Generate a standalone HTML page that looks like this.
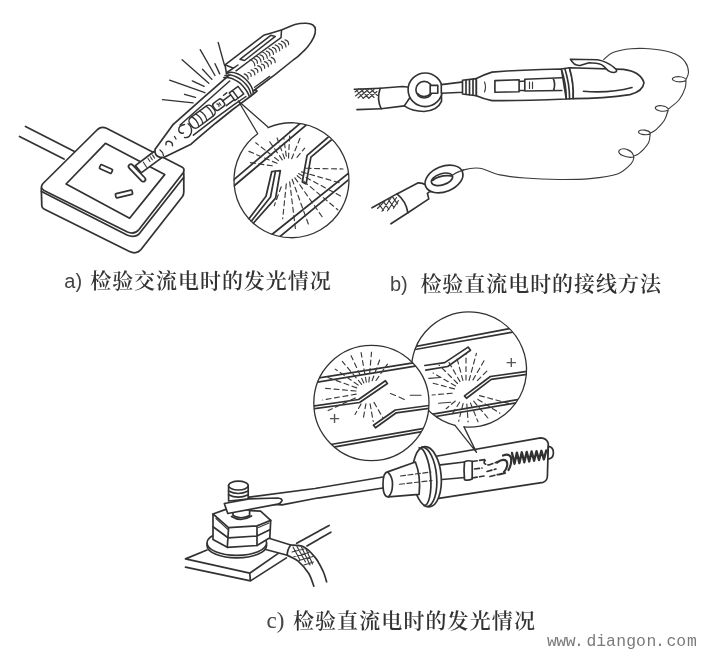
<!DOCTYPE html>
<html lang="zh-CN">
<head>
<meta charset="utf-8">
<title>检验交流电与直流电</title>
<style>
html,body{margin:0;padding:0;background:#fff;}
body{width:702px;height:655px;overflow:hidden;position:relative;}
svg{position:absolute;left:0;top:0;display:block;}
.cap{font-family:"Liberation Serif","Noto Serif CJK SC",serif;font-size:21px;fill:#333;font-weight:600;}
.lab{font-weight:400;font-family:"Liberation Sans",sans-serif;font-size:20px;fill:#444;}
.wm{font-family:"Liberation Mono","Noto Serif CJK SC",monospace;font-size:16.4px;fill:#7a7a7a;text-anchor:middle;}
.pl{font-family:"Liberation Sans",sans-serif;font-size:19px;fill:#555;text-anchor:middle;}
.k{fill:none;stroke:#333;stroke-width:1.65;stroke-linecap:round;stroke-linejoin:round;}
.t{fill:none;stroke:#3a3a3a;stroke-width:1.15;stroke-linecap:round;stroke-linejoin:round;}
.w{fill:#fff;stroke:#333;stroke-width:1.65;stroke-linecap:round;stroke-linejoin:round;}
#figA .k,#figA .w{stroke-width:1.75;}
#figC .k,#figC .w{stroke-width:1.7;}
</style>
</head>
<body>
<svg width="702" height="655" viewBox="0 0 702 655">
<defs><filter id="soft" x="-2%" y="-2%" width="104%" height="104%"><feGaussianBlur stdDeviation="0.45"/></filter></defs>
<rect x="0" y="0" width="702" height="655" fill="#fff"/>
<g filter="url(#soft)">
<!--FIG_A-->
<g id="figA">
<!-- cable -->
<path class="k" d="M25.5 126.5 L74.5 151.5 M19.5 136.5 L64 159"/>
<!-- socket box -->
<path class="w" d="M41.3 188 L41.8 206 Q42 208 44 209 L129.500 251.500 Q136.500 254.800 141 249.500 L182.5 196.5 Q183.8 194.5 183.8 192 L183.8 173 Z"/>
<path class="w" d="M43 183.5 L97.5 129.5 Q101.5 125.8 106.5 128.3 L182.3 167.2 Q185 168.700 183.400 172.500 L139 229.500 Q134.500 235 127.500 232 L44 190.5 Q39.5 187.5 43 183.5 Z"/>
<path class="k" d="M41.5 191.5 L127 235 Q135 238.500 140 232.800 L183.6 177.500"/>
<path class="k" d="M105.4 143.3 L164.7 174.6 L129.6 218.2 L66.1 184 Z"/>
<!-- slots -->
<rect class="k" x="-6.5" y="-2.2" width="13" height="4.4" rx="1" transform="translate(106 169) rotate(24)"/>
<rect class="k" x="-8.5" y="-2.2" width="17" height="4.4" rx="1" transform="translate(124 194) rotate(-13)"/>
<rect class="w" x="-11.200" y="-2.300" width="22.400" height="4.600" rx="2.300" transform="translate(137 172.900) rotate(46.500)"/>
<!-- rays -->
<path class="k" style="stroke-width:1.35" d="M218.2 42.5 L224.5 65.3 M200.2 49.6 L215 75.5 M182.1 59.8 L208.8 83.3 M169.6 80.2 L204.9 92.7 M162.5 99.7 L193.1 102.9 M215 63.7 L219.7 73.9 M202.5 69.2 L211.9 79.4 M192.3 80.9 L204.1 86.4 M184.5 94.3 L195.5 97.4"/>
<!-- probe shaft -->
<path class="w" d="M154.1 151.5 L135.3 165.6 L141.2 172.9 L162.6 157.1 Z"/>
<path class="t" d="M143.4 162.2 L146.6 167.2 M148 158.5 L150 161.5 M150.3 156.8 L152.3 159.8 M152.6 155.100 L154.600 158.100"/>
<!-- pen body -->
<path class="w" d="M233 71.5 L226.3 77.6 L200.6 100.2 L175 122.9 L173.1 124.5 L155.1 149.3 Q154 155.500 160 157.300 Q163 157.800 165.2 156.7 L191 144.2 L198.5 137.7 L215.6 123.2 L232.7 109.5 L239.6 104.4 L250.9 96 L257 91 Z"/>
<path class="k" style="stroke-width:1.5" d="M229.700 81 L180.100 125 M246 96.500 L234.400 104.400 L215.600 118.100 L193.400 135.200"/>
<!-- neon bulb -->
<g transform="translate(202.1 116.7) rotate(-36.5)">
<rect class="w" style="stroke-width:1.5" x="-14" y="-6.1" width="28" height="12.2" rx="4.5"/>
<path class="k" style="stroke-width:1.3" d="M-8.5 -6 Q-5.5 0 -8.5 6 M-3.5 -6 Q-0.5 0 -3.5 6 M1.5 -6 Q4.5 0 1.5 6 M9.5 -6 Q11.5 0 9.5 6"/>
<rect class="w" style="stroke-width:1.5" x="15" y="-4" width="11" height="8.5" rx="2.5"/>
<path class="t" d="M19.5 -1.5 Q21.5 0 19.5 2 M22 -1 L22 2"/>
<path class="k" style="stroke-width:1.5" d="M26 -0.500 L36 -0.500 L36 5.500 L26 5.500 M36 -3 L47 -3 L47 6.500 L36 6.500 Z M40 -3 L40 6.500 M30 -4.500 L34 -4.500"/>
</g>
<!-- squiggles in cone -->
<path class="k" style="stroke-width:1.4" d="M184.500 124.500 Q178 125.500 178.800 130.500 Q180 134 183.500 133 M188 123.800 Q192.500 127 191.300 132.500 Q189.500 138.500 184.500 137.500 M174.500 136.500 L176 139 M166 144.800 Q165.400 141 169 141.200 Q172.800 142 172.500 145.800 M160 150 Q163 152 163.500 155.500"/>
<!-- cap -->
<path d="M226.5 73.6 L225 64.8 L263.9 35.2 C266.9 34.3 276.9 31.5 282.1 29.7 C287.3 27.9 290.9 25.6 294.9 24.5 C298.9 23.4 303.0 23.1 306.0 23.2 C309.0 23.3 311.3 23.9 312.9 25.0 C314.5 26.1 315.3 27.6 315.4 29.7 C315.5 31.8 315.0 34.5 313.7 37.4 C312.4 40.2 310.1 43.8 307.7 46.8 C305.3 49.8 301.6 53.1 299.2 55.3 C296.8 57.5 294.2 59.2 293.2 60.0 L275 74.7 L253.2 91 Q240 76 226.500 73.600 Z" fill="#fff"/>
<path class="k" style="stroke-width:1.6" d="M226.5 73.6 L225 64.8 L263.9 35.2 C266.9 34.3 276.9 31.5 282.1 29.7 C287.3 27.9 290.9 25.6 294.9 24.5 C298.9 23.4 303.0 23.1 306.0 23.2 C309.0 23.3 311.3 23.9 312.9 25.0 C314.5 26.1 315.3 27.6 315.4 29.7 C315.5 31.8 315.0 34.5 313.7 37.4 C312.4 40.2 310.1 43.8 307.7 46.8 C305.3 49.8 301.6 53.1 299.2 55.3 C296.8 57.5 294.2 59.2 293.2 60.0 L275 74.7 L253.2 91"/>
<path class="k" style="stroke-width:1.5" d="M225 64.800 L233.500 68.200 L226.800 72.500 M236 70.800 L260 53 L281 37.600 M239.900 59.300 L270.800 35.300 L275.300 36.400 L244.500 60.500 Z M233.500 68.200 L238 65 M281.500 30.400 L281 37.600"/>
<path class="k" style="stroke-width:1.5" d="M223.8 77.6 C224.7 77.6 227.2 77.4 229.0 77.8 C230.8 78.2 232.9 78.9 234.7 79.8 C236.5 80.7 238.4 81.9 240.0 83.2 C241.6 84.5 242.9 86.0 244.1 87.5 C245.3 89.0 246.4 90.5 247.3 92.0 C248.2 93.5 249.1 95.7 249.4 96.4"/>
<path class="k" style="stroke-width:1.5" d="M225.0 75.6 C225.9 75.5 228.6 74.8 230.5 75.0 C232.4 75.2 234.6 76.1 236.5 77.0 C238.4 77.9 240.4 79.2 242.0 80.5 C243.6 81.8 245.1 83.3 246.3 84.8 C247.5 86.3 248.5 87.7 249.3 89.3 C250.1 90.9 250.9 93.7 251.2 94.6"/>
<path class="k" style="stroke-width:1.5" d="M226.5 73.6 C227.3 73.4 229.4 72.3 231.2 72.3 C233.0 72.3 235.5 73.0 237.5 73.8 C239.5 74.6 241.5 75.9 243.2 77.2 C244.9 78.5 246.5 80.1 247.8 81.5 C249.1 82.9 250.1 84.4 250.9 85.8 C251.7 87.2 252.4 88.8 252.8 90.0 C253.2 91.2 253.1 92.5 253.2 93.0"/>
<path class="k" style="stroke-width:1.4" d="M269.700 76.400 L254.600 87.300"/>
<!-- cap hatching -->
<path class="t" style="stroke-width:1.2" d="M250.2 59.8 Q254.6 61.2 254.8 65.8 M253.8 58.6 Q257.7 59.3 257.4 63.3 M256.4 56.1 Q260.8 57.5 261.0 62.0 M260.0 54.8 Q263.9 55.6 263.7 59.6 M262.7 52.3 Q267.0 53.7 267.3 58.3 M266.3 51.1 Q270.1 51.9 269.9 55.8 M268.9 48.6 Q273.3 50.0 273.5 54.5 M272.5 47.3 Q276.4 48.1 276.2 52.1 M275.2 44.9 Q279.5 46.2 279.7 50.8 M278.7 43.6 Q282.6 44.4 282.4 48.3 M281.4 41.1 Q285.7 42.5 286.0 47.0 M285.0 39.8 Q288.9 40.6 288.6 44.6 M244.2 73.9 Q248.1 75.0 248.2 79.1 M248.0 72.5 Q251.5 73.0 251.1 76.4 M251.0 69.8 Q254.8 70.9 254.9 74.9 M254.8 68.3 Q258.2 68.8 257.8 72.3 M257.7 65.7 Q261.6 66.8 261.7 70.8 M261.6 64.2 Q265.0 64.7 264.6 68.2 M264.5 61.6 Q268.3 62.7 268.4 66.7 M268.3 60.1 Q271.7 60.6 271.3 64.0 M271.2 57.4 Q275.1 58.5 275.2 62.6"/>
<!-- leader & balloon -->
<path class="k" style="stroke-width:1.3" d="M238.300 101 L257.900 134 M238.300 101 L267.700 126.700"/>
<!-- balloonA -->
<clipPath id="clipA"><circle cx="291" cy="180.5" r="57.5"/></clipPath>
<circle cx="291" cy="180.5" r="57.5" fill="#fff" stroke="none"/>
<g clip-path="url(#clipA)">
<path class="k" d="M226.800 185.700 L306.200 118.300 M228.800 190.300 L311 121"/>
<path class="k" d="M270 236 L353 169.700 M275.800 240 L355 174.300"/>
<path class="k" d="M245 224 L266 196.300 L271.800 171.500 L280.300 170.600 L275.600 198.200 L249.500 227.500 M247.500 226 L270.500 197 L275.500 171.200"/>
<path class="k" d="M340 127 L307.100 155.300 L302.300 182 L306.100 183.900 L310.900 157.200 L342 131"/>
<path class="t" stroke-dasharray="5 3.5" d="M277.0 163.3 L246.6 150.4 M278.5 160.6 L255.7 142.8 M282.3 159.8 L268.5 140.1 M284.6 158.6 L276.4 136.1 M286.3 156.1 L283.8 138.3 M288.5 158.0 L289.9 131.1 M291.7 158.7 L301.1 135.5 M297.0 157.3 L304.7 148.1 M306.0 168.3 L343.0 169.0 M301.5 171.9 L339.9 182.9 M298.6 173.6 L341.0 196.2 M297.2 175.7 L337.8 209.8 M294.9 177.8 L324.1 219.6 M292.1 179.3 L309.2 226.3 M289.7 181.9 L295.4 228.5 M286.3 183.9 L282.7 218.7 M281.2 186.8 L274.3 205.6 M272.2 165.8 L248.4 162.4"/>
</g>
<path class="k" style="stroke-width:1.3" d="M268.100 127.700 A57.500 57.500 0 1 1 257.700 133.700"/>
<!-- /balloonA -->
</g>
<!--FIG_B-->
<g id="figB">
<path class="t" style="stroke-width:1.1" d="M603.7 59.5 C605.2 58.4 608.3 54.4 612.9 52.6 C617.5 50.8 624.3 49.3 631.2 48.7 C638.1 48.1 646.9 48.4 654.1 49.2 C661.4 50.0 669.5 51.6 674.7 53.7 C679.9 55.8 682.8 58.7 685.1 61.8 C687.4 64.9 688.4 69.1 688.5 72.1 C688.6 75.0 686.4 78.3 686.0 79.5 C684 76.5 676 75.5 672.8 78.2 C670.5 81 680 83.5 686 80.5 L686.0 80.5 C685.9 81.8 686.2 84.9 685.1 88.1 C684.0 91.3 682.1 96.0 679.3 99.5 C676.5 103.0 670.3 107.4 668.5 109.0 C666 105.5 658 104.5 655.6 107 C653.5 110 663 113 668.2 110 L668.2 110.0 C667.6 111.7 666.4 117.0 664.4 120.2 C662.4 123.4 658.7 127.2 656.4 129.3 C654.1 131.4 651.5 132.4 650.5 133.0 C648.5 130 641 129 638.8 131.2 C637 134 645.5 136 650.2 133.8 L650.2 133.8 C649.9 135.4 650.2 139.8 648.4 143.1 C646.6 146.4 641.7 151.2 639.2 153.4 C636.7 155.6 634.5 155.7 633.5 156.2 C633 151 624 146.5 619.3 150.3 C616.5 154 626 158.5 634 157 L634.0 157.0 C633.5 158.1 634.0 160.9 631.2 163.7 C628.5 166.5 624.4 171.5 617.5 174.0 C610.6 176.5 599.8 177.7 590.0 178.6 C580.2 179.5 569.8 179.6 559.0 179.5 C548.2 179.4 534.8 178.8 525.0 178.0 C515.2 177.2 507.6 176.5 500.0 174.9 C492.4 173.3 485.8 169.1 479.7 168.3 C473.6 167.5 468.5 168.6 463.7 169.9 C458.9 171.2 452.9 174.9 450.7 175.9"/>
<path class="k" d="M354.3 89.3 L380.2 88.3 M357 109.6 L381.1 108.7"/>
<path class="t" d="M355 92 L359 88.8 M355.5 96 L364 89 M358 98 L369 89 M363 98.5 L374 89.5 M369 98 L377 91.5 M356 89.5 L363 98 M360.5 89 L369 98.5 M365.5 89 L374 97.5 M370.5 88.8 L377.5 95.5"/>
<path class="w" d="M380.2 88.3 L402.4 86.5 L412 87.5 L412 101 L404.3 105.9 L381.1 108.7 Q376.5 99 380.2 88.3 Z"/>
<path class="w" d="M411 96 L404.3 105.9 Q412 111.3 424 111.5 Q437.5 110.5 441.5 101.3 L441.5 93 Z"/>
<ellipse class="w" cx="425.2" cy="89.8" rx="17.1" ry="16.8"/>
<circle class="w" cx="424.2" cy="89.7" r="8.3"/>
<path class="k" d="M417.5 93.5 Q424 100 431.5 93.2"/>
<rect class="w" x="430.2" y="85.4" width="7.6" height="7.8"/>
<path class="w" d="M441.3 84.6 L463.5 81.9 L463.5 92.3 L441.3 93.2 Z"/>
<path class="w" d="M462.5 80.3 L476.4 78.6 L476.4 95.7 L462.5 94 Z"/>
<path class="k" d="M466 80 L466 94.3 M469.5 79.6 L469.5 94.8 M473 79.2 L473 95.2"/>
<path class="w" d="M476.4 78.6 Q484 74.5 492 72.1 Q520 69.8 561.4 69 L566.3 99 Q520 101 492 100.6 Q484 99 476.4 95.7 Z"/>
<path class="k" d="M494.9 80.6 L519.1 79.8 L519.1 91.8 L494.9 92.3 Z M519.1 81.5 L524.8 81 M519.1 90.5 L524.8 90.3 M524.8 79.2 L561.8 77.8 M524.8 91 L561.8 90.5 M524.8 79.2 L524.8 91 M553 78.2 Q556 84 553.5 90.6"/>
<path class="t" d="M529.5 82 L529.5 88.5 M532.5 82 L532.5 88.5 M484.5 82 Q486.5 87 484.5 92"/>
<path class="w" d="M561.4 69 Q566.3 84 566.3 99 L573.2 98.6 Q574 83 569.4 67.8 Z"/>
<path class="k" d="M564.8 68.5 Q569.6 84 569.6 98.800"/>
<path class="w" d="M569.4 67.8 L623.4 69.4 Q640.5 71.5 644 82.7 Q643 91.5 630 94.6 Q604 98.5 573.2 98.6 Q574 83 569.4 67.8 Z"/>
<path class="k" d="M583.5 91.3 Q610 93.5 632 87.5"/>
<path class="w" d="M570.4 59.2 L597.5 59.8 Q607 61.5 614.5 67.8 Q619 71.5 614 72.5 Q609 72.5 605.5 68 Q602 63.5 596 63.2 L589 62.7 L580 65.5 Q574 66 570.4 59.2 Z"/>
<path class="k" d="M372 207.8 L396.9 193.9 M390.9 223.8 L407.9 212.8"/>
<path class="t" d="M379 204.2 L383.5 210.5 M383.5 201.7 L389 209.5 M388 199.2 L394 207.5 M392.5 196.8 L397.5 203.8 M377.5 208.5 L385 200.8 M382 211.3 L391 198 M387.5 210.8 L396.5 197.5 M393.5 208.300 L398.500 200.500"/>
<path class="w" d="M396.9 193.9 L417.8 182.9 Q422 182.6 426 185 L433 191 Q428.5 191.6 427.4 193.5 L428.8 198.9 L407.9 212.8 Q406 201 396.9 193.9 Z"/>
<ellipse class="w" cx="444" cy="179" rx="19.8" ry="12.6" transform="rotate(-22 444 179)"/>
<ellipse class="w" cx="442" cy="179.3" rx="11" ry="5.6" transform="rotate(-17 442 179.3)"/>
<path class="k" d="M432.5 180.5 Q440 174.5 452 176"/>
<path class="t" style="stroke-width:1.1" d="M450.7 175.9 C453 174.8 458.5 171.3 463.7 169.9"/>
</g>
<!--FIG_C-->
<g id="figC">
<clipPath id="clipC2"><circle cx="469" cy="369.5" r="57.6"/></clipPath>
<circle cx="469" cy="369.5" r="57.6" fill="#fff"/>
<g clip-path="url(#clipC2)">
<path class="k" d="M409 347.8 L508.2 328.8 L530 324.600 M409 350.600 L511.2 332.400 L530 329"/>
<path class="k" d="M424.8 365.5 L444.7 362.6 L468.1 347.1 L470.5 350.3 L447.7 366.5 L425.8 370.1"/>
<path class="k" d="M532 370.600 L490.4 376.5 L464.5 395.9 L466.5 398.3 L491.3 379.4 L532 373.600"/>
<path class="k" d="M424 415.700 L516.2 399.9 L535 396.700 M424 418.500 L513.2 403.3 L535 399.500"/>
<path class="t" stroke-dasharray="5 3.5" d="M454.4 388.9 L431.2 382.7 M455.6 386.0 L433.1 373.0 M457.5 383.5 L439.1 365.1 M460.0 381.6 L448.0 360.8 M462.9 380.4 L456.7 357.2 M466.0 380.0 L466.0 354.0 M469.1 380.4 L476.4 353.4 M473.0 379.9 L484.0 360.8 M477.3 380.7 L488.6 369.4 M452.1 393.2 L432.1 395.0 M479.5 395.6 L508.5 403.4 M477.9 399.4 L499.9 413.2 M473.7 401.2 L487.9 418.0 M470.5 403.1 L478.0 421.7 M466.8 404.0 L468.1 421.9 M463.1 403.6 L458.7 421.1 M459.6 402.2 L451.2 415.7 M455.3 401.0 L446.1 408.7"/>
<path class="t" d="M428.8 378.4 L440.7 377.5 M438.7 403.3 L450.7 402.3"/>
</g>
<path class="k" style="stroke-width:1.3" d="M464 426.900 A57.600 57.600 0 1 0 455 425.400"/>
<text class="pl" x="511.2" y="368.600">+</text>
<clipPath id="clipC1"><circle cx="371.4" cy="403" r="57.6"/></clipPath>
<circle class="w" style="stroke-width:1.3" cx="371.4" cy="403" r="57.6"/>
<g clip-path="url(#clipC1)">
<path class="k" d="M312 379 L413.2 362.8 L432 359.800 M312 383 L415.2 366.2 L432 363.500"/>
<path class="k" d="M312 406.200 L358.6 399.5 L385.4 380.7 L387.400 383.500 L359.6 402.5 L312 409"/>
<path class="k" d="M432 405.100 L395.3 410 L373.5 425.3 L375.5 427.800 L396.3 412.8 L432 408"/>
<path class="k" d="M325 445.500 L424.1 428.3 L435 426.400 M325 448.700 L422.1 431.7 L435 429.400"/>
<path class="t" stroke-dasharray="5 3.5" d="M366.3 382.2 L361.1 352.6 M368.9 382.0 L371.5 352.2 M372.1 380.7 L380.3 358.2 M363.8 382.9 L351.1 355.7 M361.6 384.3 L342.3 361.4 M358.2 385.1 L335.2 369.1 M356.7 387.9 L326.7 377.0 M356.0 391.0 L322.2 388.0 M356.2 394.1 L322.7 400.0 M355.3 397.9 L328.1 410.6 M365.9 403.8 L363.1 419.6 M370.1 403.8 L373.2 421.5 M374.0 402.4 L383.0 418.0 M361.0 404.1 L355.0 414.5 M376.0 380.5 L387.5 364.1"/>
<path class="t" d="M390.400 393.500 L395.500 395.500 M399 397 L404.300 399.500 M410.200 395.200 L421.100 395.200"/>
</g>
<text class="pl" x="334.600" y="425.400">+</text>
<path class="k" d="M185.5 558.9 L249.7 573.2 L250.5 580.9 L185.5 567.1 M249.7 573.2 L277.9 553.6 M250.5 580.9 L286.4 557.9 M296.7 543.3 L329.1 525.4 M306.9 545.9 L330.9 532.2 M185.5 558.9 L207 550"/>
<path class="k" d="M290.7 545.0 C292.8 545.3 299.4 544.6 303.5 546.8 C307.6 548.9 312.2 553.8 315.5 557.9 C318.8 562.0 321.3 567.5 323.2 571.5 C325.1 575.5 326.0 580.1 326.6 581.8"/>
<path class="k" d="M287.3 555.3 C289.1 556.3 294.8 558.3 298.4 561.3 C301.9 564.3 306.0 569.1 308.6 573.2 C311.2 577.3 312.9 584.0 313.8 586.1"/>
<path class="t" d="M293 547 L300 560 M297 546.500 L305.500 562 M301.500 547 L310 565 M306 549 L312.500 564 M292 552 L304 549 M294 556.500 L309 552.500 M299 560.500 L313 556.500 M304 565 L313.500 562"/>
<path class="w" d="M265 537 L290.7 545 Q287 550 287.300 555.300 L262 548.500 Z"/>
<ellipse class="w" cx="236.800" cy="545.500" rx="29.800" ry="12.300"/>
<ellipse class="w" cx="236.800" cy="543" rx="29.800" ry="12.300"/>
<path class="w" d="M213 514 L225.800 509.400 L260.600 511.200 L270.700 520.400 L269.800 537.800 L257 545.500 L227.300 547.300 L213 539.600 Z"/>
<path class="k" d="M213 514 L228.600 527.700 L257 525.900 L270.700 520.400 M228.600 527.700 L227.300 547.300 M257 525.900 L257 545.500 M213 526.800 L228 537.800 L257 536 L270.300 529.600"/>
<path class="t" d="M216 518.500 L228 529.500 M258.500 527.500 L269 523"/>
<path class="w" d="M233 510 L233 515.500 Q241 520 249.600 515.500 L249.600 510 Z"/>
<path class="k" d="M231.500 516.500 Q241 522.500 251.500 516"/>
<path class="w" d="M228.600 485.600 L228.600 501 L248.200 499 L248.200 485.600 Z"/>
<ellipse class="w" cx="238.400" cy="485.600" rx="9.800" ry="4.400"/>
<path class="k" d="M228.600 491 Q238 496 248.200 491 M228.600 494.700 Q238 499.700 248.200 494.700"/>
<path class="w" d="M386 476.500 L315 488.500 L249.200 497.100 L250 503 L282 504.900 L315 498.500 L386 487.500 Z"/>
<path class="w" d="M224.300 503.500 L249.200 498.800 L277.700 498 Q282.500 498.500 282 500.600 Q281 503.200 277.700 504.200 L227.800 513.500 Z"/>
<path class="w" d="M434.800 456.500 L540.600 437.800 Q547 438 548.300 443.800 L547.400 476.300 Q547 481 543.200 482.300 L437 498.660 Z"/>
<path class="w" d="M548.300 446.400 Q553.600 447 553.400 453 Q553.400 458.500 547.900 459.200 Z"/>
<path class="k" d="M440.400 464.800 L464.400 462 M442 479.500 L465 477.500"/>
<path class="w" d="M464.500 461.800 Q468 460 472.200 461.300 L472.200 479 Q468 481 464.500 479.700 Q463.500 470 464.500 461.800 Z"/>
<path class="k" stroke-dasharray="5 2.500" d="M472.200 461.500 L486 459.500 Q481 464 489 465 L497 462 M472.200 478 L484 476 M474.500 469 L482 468 M487 471.500 L496 469 M490 476.500 L498 474.500"/>
<path class="k" style="stroke-width:2.4" d="M512.0 453.0 L514.5 463.8 L516.9 452.6 L519.4 463.1 L521.8 452.3 L524.3 462.3 L526.7 451.9 L529.2 461.5 L531.6 451.5 L534.1 460.8 L536.5 451.2 L539.0 460.0 L541.4 450.8 L543.9 459.3 L546.3 450.4"/>
<path class="k" style="stroke-width:2.2" d="M497 462.500 Q503 458 506.500 461 Q509 466 504 472 M503 455.500 Q509 453 511 457.500 Q512 464 508.500 470 M499 474.500 L505 473"/>
<ellipse class="w" cx="427" cy="476.800" rx="14.200" ry="30.200" transform="rotate(-4.600 427 476.800)"/>
<path class="k" d="M421.700 447.800 A8.900 29 0 0 1 421.700 505.800" transform="rotate(-5 421.700 476.800)"/>
<path class="k" d="M424.500 447 A12.100 29.800 0 0 1 424.500 506.600" transform="rotate(-5 424.500 476.800)"/>
<path class="w" d="M387.600 471.900 L415.400 462 Q421 476 419.100 494.400 L388.500 496.900 Q383 497 383 484.500 Q383 472.500 387.600 471.900 Z"/>
<path class="k" d="M387.600 471.900 Q393 477 392.500 485 Q392.300 493 388.500 496.900"/>
<path class="t" stroke-dasharray="5 2.500" d="M400.500 476 L431 472 M399.600 484.300 L432 480.500"/>
<path class="k" style="stroke-width:1.3" d="M455 425.400 L476.500 452.400 L464 426.900"/>
</g>
<!--TEXT-->
<g id="captions">
<text class="cap" y="288.3"><tspan class="lab" x="64.3" y="287.6">a)</tspan><tspan x="90.2" y="288.3" letter-spacing="0.95">检验交流电时的发光情况</tspan></text>
<text class="cap" y="291.4"><tspan class="lab" x="390" y="290.8">b)</tspan><tspan x="420.4" y="291.4" letter-spacing="0.95">检验直流电时的接线方法</tspan></text>
<text class="cap" y="627.8"><tspan class="lab" style="font-family:'Liberation Serif',serif;font-size:23px" x="266.6" y="627.6">c)</tspan><tspan x="292.9" y="627.8" letter-spacing="1.1">检验直流电时的发光情况</tspan></text>
<text class="wm" x="551.8 561.1 570.7 579 591.5 601.1 610.9 621.2 631.2 641 651.3 659.9 671.4 681.2 691.8" y="645.6">www.diangon.com</text>
</g>
</g>
</svg>
</body>
</html>
